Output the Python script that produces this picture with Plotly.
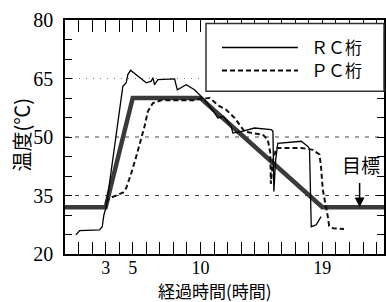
import plotly.graph_objects as go

# ---- data ----
rc_t = [0.8, 1.08, 2.55, 2.75, 2.87, 3.05, 4.27, 4.52, 4.64, 4.84, 6.0, 6.37, 6.49, 6.61, 6.86,
        8.09, 8.29, 8.95, 9.56, 10.3, 11.04, 11.28, 11.7, 12.27, 12.39, 13.0, 13.99, 15.22,
        15.35, 15.42, 15.55, 15.71, 17.44, 17.93, 18.05, 18.18, 18.55, 18.9]
rc_temp = [24.9, 26.0, 26.2, 27.0, 30.0, 32.2, 63.0, 63.9, 66.0, 67.1, 63.9, 64.3, 65.2, 63.4, 64.7,
           64.9, 62.1, 63.4, 62.1, 59.6, 56.2, 54.9, 55.3, 52.7, 51.0, 51.4, 52.3, 51.9,
           51.5, 36.0, 44.0, 48.4, 48.9, 47.6, 47.0, 27.0, 27.5, 29.6]

pc_t = [3.0, 3.3, 3.9, 4.3, 4.52, 4.7, 4.89, 5.26, 5.63, 5.87, 6.12, 6.49, 7.1, 9.56, 10.0, 10.67,
        11.4, 11.9, 12.52, 13.25, 13.87, 14.6, 14.97, 15.15, 15.2, 15.35, 15.6, 17.44, 18.3,
        18.79, 18.9, 19.03, 19.4, 19.5, 19.8, 20.6]
pc_temp = [33.3, 34.3, 35.2, 35.8, 36.9, 38.5, 40.7, 45.0, 49.3, 52.7, 56.6, 58.7, 59.4, 59.4, 59.8, 60.0,
           57.9, 57.0, 54.9, 51.4, 51.0, 50.6, 49.3, 46.0, 38.0, 44.0, 47.2, 47.2, 46.7,
           45.5, 42.4, 36.5, 29.6, 27.2, 26.6, 26.4]

plan_t = [0, 3, 5, 10, 19, 23.55]
plan_temp = [32, 32, 60, 60, 32, 32]

x_tick_vals = list(range(0, 24))
x_label_vals = [3, 5, 10, 19]
y_tick_vals = list(range(20, 81, 5))
y_label_vals = [20, 35, 50, 65, 80]
grid_dashed = [35, 50]
grid_dotted = [65]

series_names = ["ＲＣ桁", "ＰＣ桁"]
target_label = "目標"
target_t = 21.75
target_temp = 32
x_title = "経過時間(時間)"
y_title = "温度(℃)"

# ---- figure ----
fig = go.Figure()
fig.add_trace(go.Scatter(x=plan_t, y=plan_temp, mode="lines", name="計画",
                         line=dict(color="#3a3a3a", width=4.5), showlegend=False))
fig.add_trace(go.Scatter(x=rc_t, y=rc_temp, mode="lines", name=series_names[0],
                         line=dict(color="black", width=1.3), showlegend=False))
fig.add_trace(go.Scatter(x=pc_t, y=pc_temp, mode="lines", name=series_names[1],
                         line=dict(color="#111", width=2, dash="5px,3px"), showlegend=False))

serif = "Liberation Serif, Times New Roman, serif"
cjk = "Noto Sans CJK JP"

fig.update_xaxes(range=[0, 23.55], showgrid=False, zeroline=False, automargin=False,
                 showline=True, linecolor="black", linewidth=1.5, mirror="ticks",
                 ticks="inside", ticklen=12, tickwidth=1.2, tickcolor="black",
                 tickvals=x_tick_vals,
                 ticktext=[str(v) if v in x_label_vals else "" for v in x_tick_vals],
                 ticklabelstandoff=-3,
                 tickfont=dict(family=serif, size=18, color="black"))
fig.update_yaxes(range=[20, 80], showgrid=False, zeroline=False, automargin=False,
                 showline=True, linecolor="black", linewidth=1.5, mirror="ticks",
                 ticks="inside", ticklen=7, tickwidth=1.2, tickcolor="black",
                 tickvals=y_tick_vals,
                 ticktext=[str(v) if v in y_label_vals else "" for v in y_tick_vals],
                 ticklabelstandoff=6,
                 tickfont=dict(family=serif, size=20, color="black"))

shapes = []
for g in grid_dashed:
    shapes.append(dict(type="line", xref="paper", yref="y", x0=0, x1=1, y0=g, y1=g,
                       line=dict(color="#444", width=1, dash="4px,6px"), layer="below"))
for g in grid_dotted:
    shapes.append(dict(type="line", xref="paper", yref="y", x0=0, x1=1, y0=g, y1=g,
                       line=dict(color="#777", width=1, dash="1px,6px"), layer="below"))
# legend box
shapes.append(dict(type="rect", xref="paper", yref="paper", x0=0.442, x1=1.0, y0=0.695, y1=0.985,
                   line=dict(color="#333", width=1.5), fillcolor="white", layer="above"))
shapes.append(dict(type="line", xref="paper", yref="paper", x0=0.492, x1=0.730, y0=0.882, y1=0.882,
                   line=dict(color="black", width=1.5)))
shapes.append(dict(type="line", xref="paper", yref="paper", x0=0.492, x1=0.730, y0=0.784, y1=0.784,
                   line=dict(color="black", width=2, dash="5px,3px")))
fig.update_layout(shapes=shapes)

annotations = [
    dict(text=series_names[0], xref="paper", yref="paper", x=0.765, y=0.886, xanchor="left",
         yanchor="middle", showarrow=False, font=dict(family=cjk, size=17, color="black")),
    dict(text=series_names[1], xref="paper", yref="paper", x=0.765, y=0.788, xanchor="left",
         yanchor="middle", showarrow=False, font=dict(family=cjk, size=17, color="black")),
    dict(text=target_label, xref="x", yref="y", x=target_t + 0.1, y=42.9, showarrow=False,
         xanchor="center", yanchor="middle", font=dict(family=cjk, size=19, color="black")),
    dict(text="", xref="x", yref="y", x=target_t, y=target_temp, axref="x", ayref="y",
         ax=target_t, ay=38.6, showarrow=True, arrowhead=2, arrowsize=1.3, arrowwidth=1.5,
         arrowcolor="black"),
    dict(text=x_title, xref="paper", yref="paper", x=0.47, y=-0.158, showarrow=False,
         xanchor="center", yanchor="middle", font=dict(family=cjk, size=17, color="black")),
    dict(text=y_title, xref="paper", yref="paper", x=-0.135, y=0.51, showarrow=False,
         textangle=-90, xanchor="center", yanchor="middle",
         font=dict(family=cjk, size=20, color="black")),
]
fig.update_layout(annotations=annotations)

fig.update_layout(width=386, height=302, margin=dict(l=65, r=2, t=20, b=48),
                  paper_bgcolor="white", plot_bgcolor="white", showlegend=False)

fig.write_html("out.html", config={"displayModeBar": False},
               post_script="document.body.style.margin='0';document.body.style.overflow='hidden';")
